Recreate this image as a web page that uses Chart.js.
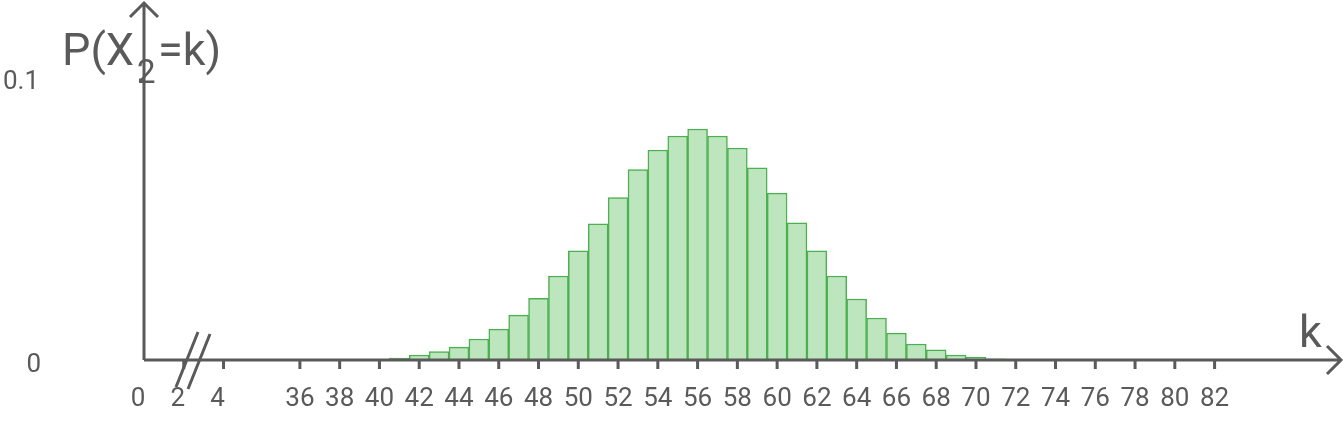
<!DOCTYPE html>
<html>
<head>
<meta charset="utf-8">
<script src="https://cdn.jsdelivr.net/npm/chart.js@4"></script>
<style>
  html, body { margin: 0; padding: 0; background: #fff; }
  #wrap { width: 1344px; height: 422px; }
</style>
</head>
<body>
<div id="wrap"><canvas id="chart"></canvas></div>
<script>
// Values of k with bars, and the probability.
var kValues = [41, 42, 43, 44, 45, 46, 47, 48, 49, 50, 51, 52, 53, 54, 55, 56,
	57, 58, 59, 60, 61, 62, 63, 64, 65, 66, 67, 68, 69, 70, 71];
var probs = [0.0007, 0.0018, 0.003, 0.0046, 0.0075, 0.011, 0.016, 0.022, 0.030, 0.039,
	0.0486, 0.058, 0.068, 0.075, 0.080, 0.0825, 0.080, 0.0757, 0.0686, 0.0596,
	0.049, 0.039, 0.030, 0.0218, 0.015, 0.0096, 0.0057, 0.0036, 0.0018, 0.001, 0.0004];
var lowTicks = [0, 2, 4];
var highTicks = [36, 38, 40, 42, 44, 46, 48, 50, 52, 54, 56, 58, 60, 62, 64, 66, 68, 70, 72, 74, 76, 78, 80, 82];
var yTicks = [0, 0.1];

// The x axis is broken between 4 and 36.
var GAP = 28.16;
function toAxis(k) { return k < 10 ? k : k - GAP; }

var GREY = "#5a5a5a";

var axesPlugin = {
	id: "axes",
	afterDraw: function (chart) {
		var ctx = chart.ctx, x = chart.scales.x, y = chart.scales.y;
		var x0 = x.getPixelForValue(0), y0 = y.getPixelForValue(0);
		ctx.save();
		ctx.strokeStyle = GREY;
		ctx.lineWidth = 3;
		ctx.lineCap = "butt";
		// axis lines
		ctx.beginPath();
		ctx.moveTo(x0, y0); ctx.lineTo(x0, 3);
		ctx.moveTo(x0, y0); ctx.lineTo(1341, y0);
		// arrows
		ctx.moveTo(x0 - 14, 17); ctx.lineTo(x0, 3); ctx.lineTo(x0 + 14, 17);
		ctx.moveTo(1327, y0 - 14); ctx.lineTo(1341, y0); ctx.lineTo(1327, y0 + 14);
		// x tick marks
		lowTicks.concat(highTicks).forEach(function (k) {
			var px = x.getPixelForValue(toAxis(k));
			if (px > x0 + 2) { ctx.moveTo(px, y0); ctx.lineTo(px, y0 + 9); }
		});
		// y tick mark
		var y1 = y.getPixelForValue(0.1);
		ctx.moveTo(x0, y1); ctx.lineTo(x0 - 5, y1);
		ctx.stroke();
		// break marks
		ctx.beginPath();
		ctx.moveTo(176, 387); ctx.lineTo(198, 332);
		ctx.moveTo(188, 389); ctx.lineTo(210, 334);
		ctx.stroke();

		ctx.fillStyle = GREY;
		// tick labels
		ctx.font = "26px Roboto";
		ctx.textAlign = "center";
		ctx.textBaseline = "alphabetic";
		lowTicks.concat(highTicks).forEach(function (k) {
			var px = x.getPixelForValue(toAxis(k));
			if (k < 10) px -= 6;
			ctx.fillText(String(k), px, 406);
		});
		ctx.textAlign = "right";
		yTicks.forEach(function (v) {
			var py = y.getPixelForValue(v);
			ctx.fillText(String(v), v === 0 ? 41 : 39, py + (v === 0 ? 12 : 9));
		});
		// titles
		ctx.textAlign = "left";
		ctx.font = "45px Roboto";
		ctx.fillText("P(X", 62, 65);
		var w = ctx.measureText("P(X").width;
		ctx.font = "33px Roboto";
		ctx.fillText("2", 62 + w + 3, 83);
		ctx.font = "45px Roboto";
		ctx.fillText("=k)", 62 + w + 24, 65);
		ctx.fillText("k", 1299, 347);
		ctx.restore();
	}
};

new Chart(document.getElementById("chart"), {
	type: "bar",
	data: {
		datasets: [{
			data: kValues.map(function (k, i) { return { x: toAxis(k), y: probs[i] }; }),
			backgroundColor: "#bde6bf",
			borderColor: "#4caf50",
			borderWidth: 1.5,
			barPercentage: 1,
			categoryPercentage: 1
		}]
	},
	options: {
		responsive: true,
		maintainAspectRatio: false,
		animation: false,
		layout: { padding: { top: 10, right: 4, left: 52, bottom: 62 } },
		plugins: { legend: { display: false }, tooltip: { enabled: false } },
		scales: {
			x: {
				type: "linear",
				display: false,
				min: 0,
				max: 55.52
			},
			y: {
				display: false,
				min: 0,
				max: 0.125
			}
		}
	},
	plugins: [axesPlugin]
});
</script>
</body>
</html>
